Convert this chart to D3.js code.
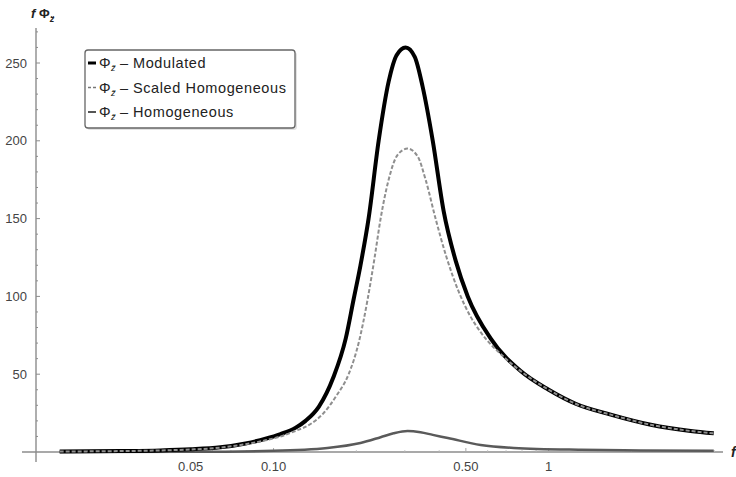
<!DOCTYPE html>
<html>
<head>
<meta charset="utf-8">
<script src="https://cdn.jsdelivr.net/npm/d3@7"></script>
<style>
    body { margin: 0; background: #fff; }
    svg { font-family: 'Liberation Sans', Arial, sans-serif; }
    .tick-label { font-size: 13px; fill: #444; }
    .legend-text { font-size: 14.5px; fill: #222; letter-spacing: 0.6px; }
</style>
</head>
<body>
<svg id="chart" width="736" height="477"></svg>
<script>
// frequencies and values
const modFreq = [0.0167, 0.0278, 0.0388, 0.05, 0.0641, 0.0791, 0.0935, 0.106, 0.12, 0.1307, 0.146, 0.165, 0.183, 0.1954, 0.207, 0.2215, 0.241, 0.262, 0.28, 0.302, 0.326, 0.348, 0.379, 0.415, 0.459, 0.508, 0.615, 0.791, 1.0, 1.253, 1.68, 2.35, 3.28, 3.98]
const modVals = [0.3, 0.6, 1.0, 1.7, 3, 5.5, 8.5, 11.5, 15.5, 20, 29, 48, 73, 98, 120, 150, 200, 238, 255, 260, 254, 235, 200, 155, 123, 100, 73, 52, 40, 31, 24, 17.5, 13.5, 12]

const scaledFreq = [0.0167, 0.0278, 0.0388, 0.05, 0.0641, 0.0791, 0.0935, 0.106, 0.12, 0.1363, 0.152, 0.169, 0.1875, 0.2038, 0.2197, 0.233, 0.245, 0.262, 0.2825, 0.307, 0.334, 0.357, 0.388, 0.4255, 0.471, 0.52, 0.566, 0.698, 0.791, 1.0, 1.253, 1.68, 2.35, 3.28, 3.98]
const scaledVals = [0.3, 0.6, 1.0, 1.6, 2.8, 5, 7.5, 10, 13.5, 18, 25, 36, 50, 70, 98, 125, 150, 175, 191, 195, 190, 175, 150, 125, 103, 87, 77, 60, 52, 40, 31, 24, 17.5, 13.5, 12]

const homFreq = [0.0167, 0.05, 0.1, 0.157, 0.207, 0.245, 0.273, 0.307, 0.342, 0.379, 0.43, 0.566, 0.747, 1.306, 2.16, 3.98]
const homVals = [0.02, 0.15, 0.8, 2.6, 5.8, 9.5, 12, 13.5, 12.7, 11, 9, 4.5, 2.6, 1.4, 1.0, 0.8]

const xTicks = [0.05, 0.1, 0.5, 1]
const xTickLabels = ['0.05', '0.10', '0.50', '1']
const yTicks = [50, 100, 150, 200, 250]

const svg = d3.select('#chart')

const x = d3.scaleLog().domain([0.0137, 4.3]).range([36, 723])
const y = d3.scaleLinear().domain([0, 250]).range([452, 63])

const axisColor = '#8c8c8c'

// axes lines
svg.append('line')
    .attr('x1', 22).attr('x2', 723)
    .attr('y1', y(0)).attr('y2', y(0))
    .attr('stroke', axisColor).attr('stroke-width', 1.4)
svg.append('line')
    .attr('x1', x.range()[0]).attr('x2', x.range()[0])
    .attr('y1', 28).attr('y2', 462)
    .attr('stroke', axisColor).attr('stroke-width', 1.4)

// y ticks (major + minor)
const yAxisX = x.range()[0]
d3.range(10, 280, 10).forEach(v => {
    const major = v % 50 === 0
    svg.append('line')
        .attr('x1', yAxisX).attr('x2', yAxisX + (major ? 4 : 2))
        .attr('y1', y(v)).attr('y2', y(v))
        .attr('stroke', axisColor).attr('stroke-width', 1)
})
svg.selectAll('.y-label')
    .data(yTicks)
    .join('text')
    .attr('class', 'tick-label')
    .attr('x', 27)
    .attr('y', d => y(d) + 4.5)
    .attr('text-anchor', 'end')
    .text(d => d)

// x ticks
const minorX = [0.02, 0.03, 0.04, 0.06, 0.07, 0.08, 0.09, 0.2, 0.3, 0.4, 0.6, 0.7, 0.8, 0.9, 2, 3, 4]
minorX.forEach(v => {
    svg.append('line')
        .attr('x1', x(v)).attr('x2', x(v))
        .attr('y1', y(0)).attr('y2', y(0) - 2)
        .attr('stroke', '#bbb').attr('stroke-width', 0.8)
})
xTicks.forEach(v => {
    svg.append('line')
        .attr('x1', x(v)).attr('x2', x(v))
        .attr('y1', y(0)).attr('y2', y(0) - 4)
        .attr('stroke', '#aaa').attr('stroke-width', 1)
})
svg.selectAll('.x-label')
    .data(xTicks)
    .join('text')
    .attr('class', 'tick-label')
    .attr('x', d => x(d))
    .attr('y', 471)
    .attr('text-anchor', 'middle')
    .text((d, i) => xTickLabels[i])

// axis titles
const yTitle = svg.append('text')
    .attr('x', 31).attr('y', 18)
    .attr('font-size', 13).attr('font-weight', 'bold').attr('fill', '#222')
yTitle.append('tspan').attr('font-style', 'italic').text('f ')
yTitle.append('tspan').text('Φ')
yTitle.append('tspan').attr('font-size', 9).attr('dy', 4).attr('font-style', 'italic').text('z\u0308')

svg.append('text')
    .attr('x', 731).attr('y', 457)
    .attr('font-size', 14).attr('font-weight', 'bold').attr('font-style', 'italic')
    .attr('fill', '#222')
    .text('f')

// curves
const line = d3.line()
    .x(d => x(d[0]))
    .y(d => y(d[1]))
    .curve(d3.curveMonotoneX)

svg.append('path')
    .datum(homFreq.map((f, i) => [f, homVals[i]]))
    .attr('d', line)
    .attr('fill', 'none')
    .attr('stroke', '#5a5a5a')
    .attr('stroke-width', 2.5)

svg.append('path')
    .datum(modFreq.map((f, i) => [f, modVals[i]]))
    .attr('d', line)
    .attr('fill', 'none')
    .attr('stroke', '#000')
    .attr('stroke-width', 4)

svg.append('path')
    .datum(scaledFreq.map((f, i) => [f, scaledVals[i]]))
    .attr('d', line)
    .attr('fill', 'none')
    .attr('stroke', '#8f8f8f')
    .attr('stroke-width', 2)
    .attr('stroke-dasharray', '4,2')

// legend (shadow first, then box)
svg.append('rect')
    .attr('x', 87).attr('y', 52).attr('width', 210).attr('height', 78)
    .attr('rx', 3).attr('fill', '#e2e2e2')
const legend = svg.append('g')
legend.append('rect')
    .attr('x', 85).attr('y', 50).attr('width', 210).attr('height', 78)
    .attr('rx', 3).attr('fill', '#fff').attr('stroke', '#666').attr('stroke-width', 1.3)

const entries = [
    { label: 'Modulated', color: '#000', width: 3, dash: null },
    { label: 'Scaled Homogeneous', color: '#777', width: 1.5, dash: '3,2' },
    { label: 'Homogeneous', color: '#555', width: 2, dash: null }
]
entries.forEach((e, i) => {
    const ly = 63 + i * 24.5
    legend.append('line')
        .attr('x1', 88).attr('x2', 96)
        .attr('y1', ly).attr('y2', ly)
        .attr('stroke', e.color).attr('stroke-width', e.width)
        .attr('stroke-dasharray', e.dash)
    legend.append('text')
        .attr('class', 'legend-text')
        .attr('x', 99).attr('y', ly + 5)
        .text('Φ')
    legend.append('text')
        .attr('x', 111).attr('y', ly + 8)
        .attr('font-size', 9).attr('font-style', 'italic').attr('fill', '#222')
        .text('z\u0308')
    legend.append('text')
        .attr('class', 'legend-text')
        .attr('x', 120).attr('y', ly + 5)
        .text('–')
    legend.append('text')
        .attr('class', 'legend-text')
        .attr('x', 133).attr('y', ly + 5)
        .text(e.label)
})
</script>
</body>
</html>
